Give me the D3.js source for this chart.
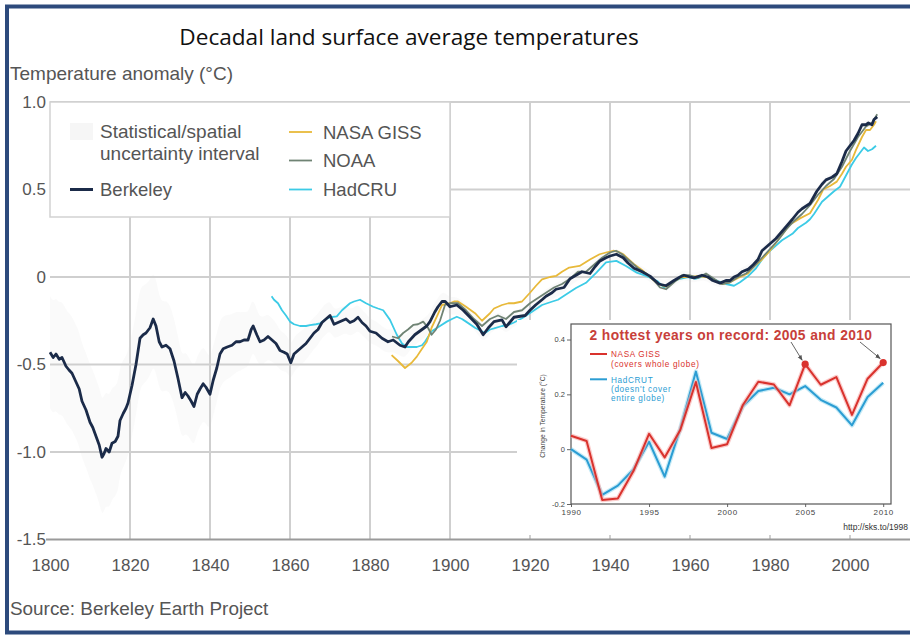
<!DOCTYPE html>
<html>
<head>
<meta charset="utf-8">
<script src="https://cdn.jsdelivr.net/npm/d3@7"></script>
<style>
  body { margin: 0; background: #fff; }
  svg { display: block; }
</style>
</head>
<body>
<svg id="chart" width="910" height="640"></svg>
<script>
// ---- Main chart data: decadal (10-yr moving) land temperature anomaly, °C ----
const berkeley = [
  [1800,-0.43],[1800.8,-0.46],[1801.5,-0.44],[1802.3,-0.47],[1803,-0.46],[1804,-0.51],[1804.7,-0.53],
  [1805.5,-0.55],[1806.5,-0.60],[1807.3,-0.64],[1808,-0.71],[1809,-0.76],[1810,-0.83],[1810.7,-0.86],
  [1811.5,-0.91],[1812.3,-0.96],[1813,-1.03],[1813.5,-1.01],[1814,-0.98],[1814.8,-1.00],[1815.5,-0.95],
  [1816.3,-0.94],[1817,-0.91],[1817.5,-0.82],[1818.3,-0.78],[1819,-0.75],[1819.5,-0.72],[1820.5,-0.62],
  [1821.5,-0.50],[1822.5,-0.35],[1823.3,-0.33],[1824,-0.32],[1825,-0.29],[1825.8,-0.24],[1826.5,-0.28],
  [1827.3,-0.37],[1828,-0.40],[1829,-0.39],[1830,-0.41],[1831,-0.48],[1832,-0.58],[1833,-0.69],
  [1833.8,-0.66],[1834.5,-0.68],[1835.3,-0.71],[1836,-0.74],[1836.8,-0.67],[1837.5,-0.64],[1838.3,-0.61],
  [1839,-0.63],[1840,-0.67],[1840.8,-0.59],[1841.7,-0.52],[1842.5,-0.44],[1843.3,-0.41],[1844.3,-0.40],
  [1845.5,-0.39],[1846.5,-0.37],[1847.5,-0.37],[1848.5,-0.36],[1849.5,-0.36],[1850.3,-0.30],[1850.8,-0.28],
  [1851.7,-0.33],[1852.5,-0.37],[1853.5,-0.36],[1854.5,-0.34],[1855.5,-0.36],[1856.5,-0.38],[1857.5,-0.42],
  [1858.5,-0.43],[1859.3,-0.44],[1860.2,-0.49],[1861,-0.44],[1862,-0.42],[1863,-0.40],[1864,-0.38],
  [1865,-0.35],[1866,-0.32],[1867,-0.30],[1868,-0.26],[1869,-0.24],[1870,-0.22],[1871,-0.27],[1872,-0.26],
  [1873,-0.25],[1874,-0.24],[1875,-0.26],[1876,-0.25],[1877,-0.23],[1878,-0.26],[1879,-0.28],[1880,-0.31],
  [1881.5,-0.32],[1883,-0.35],[1884.5,-0.37],[1885.8,-0.36],[1887.5,-0.39],[1888.75,-0.40],[1889.6,-0.37],
  [1891.2,-0.33],[1893,-0.30],[1894.2,-0.28],[1895,-0.255],[1896.2,-0.20],[1897,-0.17],[1898,-0.14],
  [1898.8,-0.14],[1900,-0.17],[1901.7,-0.16],[1903.3,-0.19],[1905,-0.23],[1906.7,-0.27],[1908.3,-0.33],
  [1909.6,-0.29],[1911,-0.255],[1913,-0.245],[1914,-0.285],[1916,-0.23],[1918.8,-0.22],[1920,-0.19],
  [1921.4,-0.16],[1923,-0.13],[1924,-0.11],[1925.5,-0.09],[1926.5,-0.07],[1928.5,-0.06],[1930,-0.01],
  [1931.5,0.01],[1933,0.03],[1935,0.02],[1936.3,0.06],[1937.4,0.09],[1939,0.11],[1940,0.12],[1941.6,0.13],
  [1943.3,0.11],[1944.5,0.08],[1946,0.05],[1948,0.03],[1950,0.005],[1952.2,-0.04],[1954,-0.05],[1956,-0.02],
  [1957.5,0.0],[1958.5,0.01],[1960,0.0],[1961,-0.005],[1963,0.01],[1964.5,0.0],[1965.7,-0.02],[1967.5,-0.035],
  [1969,-0.02],[1970,-0.02],[1971,0.0],[1972,0.01],[1973,0.03],[1974.6,0.045],[1975.8,0.07],[1977,0.10],
  [1978,0.15],[1979,0.17],[1980,0.19],[1981.5,0.22],[1983,0.26],[1984.5,0.30],[1985.6,0.33],[1987,0.37],
  [1988,0.39],[1990,0.42],[1991.7,0.49],[1993,0.53],[1994,0.555],[1995.5,0.57],[1996.7,0.59],[1998,0.66],
  [1999,0.72],[2000,0.75],[2001,0.78],[2002,0.82],[2003,0.87],[2004,0.87],[2004.6,0.88],[2005.5,0.87],
  [2006,0.90],[2006.8,0.915]
];

const hadcru = [
  [1855.4,-0.11],[1856,-0.13],[1857,-0.15],[1858,-0.19],[1859,-0.22],[1860,-0.255],[1861,-0.27],
  [1862.5,-0.28],[1864,-0.28],[1865,-0.275],[1866.5,-0.27],[1867.5,-0.265],[1869,-0.24],[1870,-0.23],
  [1871.7,-0.225],[1873,-0.19],[1874,-0.17],[1875,-0.15],[1876,-0.14],[1877.5,-0.13],[1879,-0.15],
  [1880.8,-0.17],[1882,-0.18],[1883.3,-0.19],[1885,-0.245],[1886.7,-0.33],[1888,-0.38],[1889.2,-0.40],
  [1890.5,-0.40],[1891.7,-0.40],[1893,-0.39],[1893.75,-0.37],[1895.4,-0.31],[1897.5,-0.28],[1899.2,-0.255],
  [1900.5,-0.24],[1901.7,-0.227],[1903,-0.24],[1904,-0.255],[1906.25,-0.29],[1908.75,-0.32],[1910,-0.30],
  [1911,-0.294],[1913,-0.28],[1914.6,-0.274],[1916,-0.26],[1918,-0.236],[1920.5,-0.198],[1923,-0.16],
  [1925.6,-0.14],[1927,-0.13],[1929,-0.10],[1931.5,-0.063],[1934,-0.033],[1936.6,0.025],[1939,0.083],
  [1941.6,0.092],[1944,0.063],[1946.7,0.025],[1949,0.006],[1951.8,-0.023],[1953.5,-0.06],[1955.5,-0.03],
  [1957.5,-0.01],[1959.5,0.0],[1961.5,-0.01],[1963.5,0.005],[1965.5,-0.01],[1967,-0.023],[1969,-0.04],
  [1971,-0.05],[1972.5,-0.03],[1974.6,0.006],[1976.5,0.05],[1978,0.10],[1979.5,0.14],[1981,0.17],
  [1983,0.21],[1985.6,0.247],[1987,0.28],[1989,0.31],[1990,0.33],[1991,0.36],[1993,0.43],[1995,0.47],
  [1996,0.49],[1997.5,0.516],[1999,0.58],[2000.4,0.64],[2001.5,0.68],[2002.5,0.71],[2003.5,0.74],
  [2004.5,0.72],[2005.5,0.73],[2006.5,0.75]
];

const nasaGiss = [
  [1885.4,-0.446],[1887,-0.48],[1888.75,-0.52],[1890.4,-0.49],[1891.7,-0.455],[1893,-0.41],[1894.2,-0.37],
  [1895.4,-0.29],[1896.7,-0.227],[1898,-0.16],[1900,-0.15],[1901,-0.14],[1902,-0.14],[1904,-0.17],
  [1906.25,-0.207],[1908,-0.25],[1910,-0.207],[1911,-0.18],[1913,-0.16],[1914.6,-0.15],[1916,-0.15],
  [1918,-0.14],[1920,-0.09],[1921.5,-0.05],[1923,-0.014],[1925,0.0],[1926.5,0.006],[1928,0.03],
  [1929.8,0.054],[1932.4,0.063],[1935,0.10],[1937.4,0.13],[1939,0.14],[1940.8,0.15],[1942,0.145],
  [1943.3,0.13],[1946,0.073],[1948,0.04],[1950,0.0],[1952,-0.04],[1954,-0.055],[1956,-0.025],[1958,0.0],
  [1960,0.0],[1962,0.005],[1964,0.0],[1966,-0.02],[1968,-0.04],[1970,-0.03],[1972,-0.005],[1974.5,0.02],
  [1976,0.06],[1978,0.10],[1980,0.15],[1983.3,0.25],[1985,0.30],[1987.5,0.335],[1990,0.364],[1992,0.44],
  [1993.3,0.50],[1995,0.52],[1996.7,0.545],[1998,0.59],[1999,0.63],[2000.5,0.67],[2001.5,0.726],
  [2003,0.80],[2004,0.84],[2005,0.84],[2006,0.87],[2006.5,0.89]
];

const noaa = [
  [1885.5,-0.34],[1887,-0.35],[1888.3,-0.32],[1889.5,-0.30],[1890.8,-0.274],[1892,-0.27],[1893.3,-0.255],
  [1894.5,-0.29],[1895.4,-0.33],[1896.5,-0.30],[1897.5,-0.25],[1898.75,-0.16],[1900,-0.15],[1902,-0.15],
  [1904,-0.19],[1906,-0.24],[1908,-0.28],[1910,-0.24],[1912,-0.22],[1914,-0.24],[1916,-0.20],[1918,-0.19],
  [1920,-0.15],[1922,-0.12],[1924,-0.09],[1926,-0.06],[1928,-0.04],[1930,-0.01],[1932,0.03],[1934,0.03],
  [1936,0.07],[1938,0.11],[1940,0.14],[1941.5,0.15],[1943,0.13],[1945,0.09],[1947,0.05],[1949,0.02],
  [1951,-0.02],[1952.5,-0.06],[1954,-0.07],[1956,-0.03],[1958,0.01],[1960,0.01],[1962,-0.005],[1964,0.02],
  [1966,-0.01],[1968,-0.04],[1970,-0.03],[1972,0.0],[1974,0.02],[1976,0.06],[1978,0.11],[1980,0.16],
  [1982,0.21],[1984,0.27],[1986,0.32],[1988,0.36],[1990,0.41],[1992,0.47],[1994,0.52],[1996,0.56],
  [1998,0.63],[2000,0.72],[2002,0.80],[2004,0.86],[2005.5,0.88],[2006.8,0.93]
];

// Half-width of the statistical/spatial uncertainty interval around Berkeley
const uncertaintyHalfWidth = [
  [1800,0.32],[1813,0.33],[1830,0.25],[1845,0.18],[1860,0.10],[1880,0.07],[1900,0.05],[1950,0.03],[2007,0.02]
];

const xTicks = [1800,1820,1840,1860,1880,1900,1920,1940,1960,1980,2000];
const yTicks = [1.0,0.5,0,-0.5,-1.0,-1.5];
const yTickLabels = ["1.0","0.5","0","-0.5","-1.0","-1.5"];

// ---- Inset: annual global temperature change 1990-2010 ----
const insetYears = [1990,1991,1992,1993,1994,1995,1996,1997,1998,1999,2000,2001,2002,2003,2004,2005,2006,2007,2008,2009,2010];
const insetGiss = [0.049,0.03,-0.185,-0.18,-0.08,0.056,-0.03,0.07,0.245,0.004,0.018,0.16,0.246,0.236,0.16,0.31,0.235,0.263,0.125,0.257,0.316];
const insetHadcrut = [0.0,-0.038,-0.167,-0.133,-0.074,0.027,-0.10,0.075,0.283,0.06,0.037,0.156,0.212,0.224,0.20,0.23,0.18,0.152,0.087,0.19,0.242];
const insetHottest = [2005, 2010];
const insetXTicks = [1990,1995,2000,2005,2010];
const insetYTicks = [-0.2,0,0.2,0.4];

// ---------------------------------------------------------------
const svg = d3.select("#chart");
const GRAY_TEXT = "#555";
const SANS = "'Liberation Sans', Arial, Helvetica, sans-serif";

const x = d3.scaleLinear().domain([1800, 2000]).range([50, 850]);
const y = d3.scaleLinear().domain([-1.5, 1.0]).range([539.5, 102]);
const plotRight = 910;

svg.append("rect").attr("width", 910).attr("height", 640).attr("fill", "#fff");

// uncertainty band (very faint)
const hw = d3.scaleLinear()
  .domain(uncertaintyHalfWidth.map(d => d[0]))
  .range(uncertaintyHalfWidth.map(d => d[1]));
svg.append("path")
  .datum(berkeley)
  .attr("fill", "#f3f3f3")
  .attr("opacity", 0.4)
  .attr("d", d3.area()
    .x(d => x(d[0]))
    .y0(d => y(d[1] - hw(d[0])))
    .y1(d => y(d[1] + hw(d[0])))
    .curve(d3.curveBasis));

// gridlines
const grid = svg.append("g").attr("stroke", "#cfcfcf").attr("stroke-width", 2);
grid.selectAll("line.v")
  .data(xTicks.filter(t => t > 1800))
  .join("line")
  .attr("x1", d => x(d)).attr("x2", d => x(d))
  .attr("y1", y(1.0)).attr("y2", y(-1.5));
grid.selectAll("line.h")
  .data(yTicks.filter(t => t > -1.5))
  .join("line")
  .attr("x1", x(1800)).attr("x2", plotRight)
  .attr("y1", d => y(d)).attr("y2", d => y(d));

// series lines
const line = d3.line().x(d => x(d[0])).y(d => y(d[1]));
const series = [
  { data: hadcru,   color: "#3ccbe6", width: 1.8 },
  { data: nasaGiss, color: "#e8b93a", width: 1.8 },
  { data: noaa,     color: "#6f8374", width: 1.8 },
  { data: berkeley, color: "#1b2b49", width: 2.8 }
];
series.forEach(s => {
  svg.append("path")
    .datum(s.data)
    .attr("fill", "none")
    .attr("stroke", s.color)
    .attr("stroke-width", s.width)
    .attr("stroke-linejoin", "round")
    .attr("d", line);
});

// x axis baseline
svg.append("line")
  .attr("x1", 46).attr("x2", plotRight)
  .attr("y1", y(-1.5)).attr("y2", y(-1.5))
  .attr("stroke", "#9a9a9a").attr("stroke-width", 2);

// y tick labels
svg.append("g")
  .attr("transform", `translate(${x(1800)},0)`)
  .call(d3.axisLeft(y).tickValues(yTicks).tickSize(0).tickPadding(4)
    .tickFormat((d, i) => yTickLabels[i]))
  .call(g => g.select(".domain").remove())
  .call(g => g.selectAll("text").attr("fill", GRAY_TEXT).attr("font-size", 17).attr("font-family", SANS));

// x tick labels
svg.append("g")
  .attr("transform", `translate(0,${y(-1.5)})`)
  .call(d3.axisBottom(x).tickValues(xTicks).tickSize(0).tickPadding(19).tickFormat(d3.format("d")))
  .call(g => g.select(".domain").remove())
  .call(g => g.selectAll("text").attr("fill", GRAY_TEXT).attr("font-size", 17).attr("font-family", SANS));

// legend box
const lg = svg.append("g");
lg.append("rect")
  .attr("x", x(1800)).attr("y", y(1.0))
  .attr("width", x(1900) - x(1800)).attr("height", 115)
  .attr("fill", "#fff").attr("stroke", "#d2d2d2").attr("stroke-width", 1.5);
lg.append("rect").attr("x", 70).attr("y", 123).attr("width", 23).attr("height", 17).attr("fill", "#f6f6f6");
const legendItems = [
  { x: 70,  tx: 100, y: 189.5, color: "#1b2b49", w: 3,   label: "Berkeley" },
  { x: 289, tx: 323, y: 132,   color: "#e8b93a", w: 1.8, label: "NASA GISS" },
  { x: 289, tx: 323, y: 160.5, color: "#6f8374", w: 1.8, label: "NOAA" },
  { x: 289, tx: 323, y: 189.5, color: "#3ccbe6", w: 1.8, label: "HadCRU" }
];
legendItems.forEach(it => {
  lg.append("line").attr("x1", it.x).attr("x2", it.x + 23).attr("y1", it.y).attr("y2", it.y)
    .attr("stroke", it.color).attr("stroke-width", it.w);
  lg.append("text").attr("x", it.tx).attr("y", it.y + 6.5)
    .attr("font-family", SANS).attr("font-size", 18.5).attr("fill", GRAY_TEXT).text(it.label);
});
lg.append("text").attr("x", 100).attr("y", 138).attr("font-family", SANS).attr("font-size", 19)
  .attr("fill", GRAY_TEXT).text("Statistical/spatial");
lg.append("text").attr("x", 100).attr("y", 160).attr("font-family", SANS).attr("font-size", 19)
  .attr("fill", GRAY_TEXT).text("uncertainty interval");

// titles and source
svg.append("text").attr("x", 409).attr("y", 45).attr("text-anchor", "middle")
  .attr("font-family", "'Open Sans', Lato, sans-serif").attr("font-size", 22.6).attr("fill", "#111")
  .text("Decadal land surface average temperatures");
svg.append("text").attr("x", 10).attr("y", 80)
  .attr("font-family", SANS).attr("font-size", 19).attr("fill", GRAY_TEXT)
  .text("Temperature anomaly (°C)");
svg.append("text").attr("x", 10).attr("y", 615)
  .attr("font-family", SANS).attr("font-size", 18.9).attr("fill", GRAY_TEXT)
  .text("Source: Berkeley Earth Project");

// ---------------- Inset chart ----------------
const inset = svg.append("g");
inset.append("rect").attr("x", 517).attr("y", 320).attr("width", 400).attr("height", 215).attr("fill", "#fff");

const xi = d3.scaleLinear().domain([1990, 2010.5]).range([571, 891]);
const yi = d3.scaleLinear().domain([-0.2, 0.4566]).range([504, 324]);

inset.append("g")
  .attr("transform", "translate(571,0)")
  .call(d3.axisLeft(yi).tickValues(insetYTicks).tickSize(4).tickPadding(2)
    .tickFormat(d => d === 0 ? "0" : d.toFixed(1)))
  .call(g => g.select(".domain").remove())
  .call(g => g.selectAll("line").attr("stroke", "#666"))
  .call(g => g.selectAll("text").attr("fill", "#444").attr("font-size", 7.5).attr("font-family", SANS));

inset.append("g")
  .attr("transform", "translate(0,504)")
  .call(d3.axisBottom(xi).tickValues(insetXTicks).tickSize(3).tickPadding(2).tickFormat(d3.format("d")))
  .call(g => g.select(".domain").remove())
  .call(g => g.selectAll("line").attr("stroke", "#666"))
  .call(g => g.selectAll("text").attr("fill", "#444").attr("font-size", 8).attr("letter-spacing", 0.6).attr("font-family", SANS));

inset.append("rect").attr("x", 571).attr("y", 324).attr("width", 320).attr("height", 180)
  .attr("fill", "none").attr("stroke", "#555").attr("stroke-width", 1.2);

inset.append("text")
  .attr("transform", "translate(545,416) rotate(-90)")
  .attr("text-anchor", "middle")
  .attr("font-family", SANS).attr("font-size", 6.7).attr("fill", "#444")
  .text("Change in Temperature (°C)");

const lineIn = d3.line().x((d, i) => xi(insetYears[i])).y(d => yi(d));
[
  { data: insetHadcrut, color: "#2b9dd3", halo: "#9fdcf0" },
  { data: insetGiss,    color: "#d9322d", halo: "#f6aaa8" }
].forEach(s => {
  inset.append("path").datum(s.data).attr("fill", "none").attr("stroke", s.halo)
    .attr("stroke-width", 4.5).attr("stroke-opacity", 0.6).attr("stroke-linejoin", "round").attr("d", lineIn);
  inset.append("path").datum(s.data).attr("fill", "none").attr("stroke", s.color)
    .attr("stroke-width", 2).attr("stroke-linejoin", "round").attr("d", lineIn);
});

inset.selectAll("circle.hot")
  .data(insetHottest)
  .join("circle")
  .attr("cx", d => xi(d))
  .attr("cy", d => yi(insetGiss[insetYears.indexOf(d)]))
  .attr("r", 3.6)
  .attr("fill", "#d9322d");

inset.append("text").attr("x", 731).attr("y", 339.5).attr("text-anchor", "middle")
  .attr("font-family", SANS).attr("font-weight", "bold").attr("font-size", 13.8)
  .attr("letter-spacing", 0.4).attr("fill", "#c8403a")
  .text("2 hottest years on record: 2005 and 2010");

// arrows from the headline to the two record years
svg.append("defs").append("marker")
  .attr("id", "arrowhead").attr("viewBox", "0 0 10 10").attr("refX", 9).attr("refY", 5)
  .attr("markerWidth", 6).attr("markerHeight", 6).attr("orient", "auto")
  .append("path").attr("d", "M0,1 L10,5 L0,9 Z").attr("fill", "#555");
[[791, 342, 2005], [860, 342, 2010]].forEach(([sx, sy, yr]) => {
  const tx = xi(yr) - 3, ty = yi(insetGiss[insetYears.indexOf(yr)]) - 4;
  inset.append("line").attr("x1", sx).attr("y1", sy).attr("x2", tx).attr("y2", ty)
    .attr("stroke", "#555").attr("stroke-width", 0.9).attr("marker-end", "url(#arrowhead)");
});

// inset legend
const insetLegend = [
  { y: 354, color: "#d9322d", lines: ["NASA GISS", "(covers whole globe)"] },
  { y: 379.3, color: "#2b9dd3", lines: ["HadCRUT", "(doesn't cover", "entire globe)"] }
];
insetLegend.forEach(it => {
  inset.append("line").attr("x1", 590).attr("x2", 607).attr("y1", it.y).attr("y2", it.y)
    .attr("stroke", it.color).attr("stroke-width", 2);
  it.lines.forEach((t, i) => {
    inset.append("text").attr("x", 611).attr("y", it.y + 3.2 + i * 9.4)
      .attr("font-family", SANS).attr("font-size", 8.2).attr("letter-spacing", 0.65)
      .attr("fill", it.color).text(t);
  });
});

inset.append("text").attr("x", 908).attr("y", 530).attr("text-anchor", "end")
  .attr("font-family", SANS).attr("font-size", 8.5).attr("fill", "#333")
  .text("http://sks.to/1998");

// outer frame
svg.append("rect").attr("x", 7).attr("y", 6.5).attr("width", 930).attr("height", 626)
  .attr("fill", "none").attr("stroke", "#2d4a7c").attr("stroke-width", 4);
</script>
</body>
</html>
